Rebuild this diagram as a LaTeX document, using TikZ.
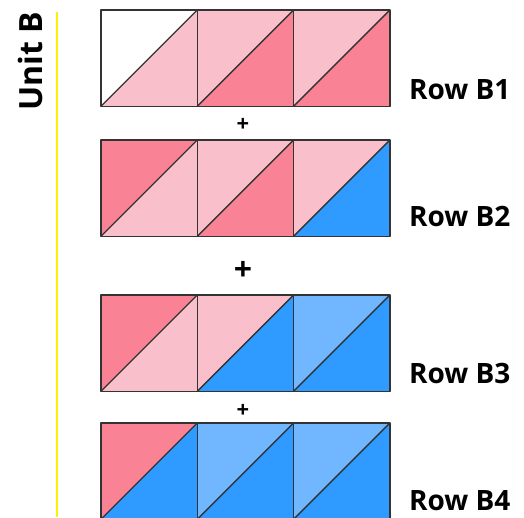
\documentclass[tikz,border=0pt]{standalone}
\usepackage{fontspec}
\setmainfont{Open Sans}
\definecolor{lpink}{HTML}{F9C0CB}
\definecolor{dpink}{HTML}{F98395}
\definecolor{dblue}{HTML}{2F9AFF}
\definecolor{lblue}{HTML}{70B7FF}
\begin{document}
\begin{tikzpicture}[x=1pt,y=-1pt,
  edge/.style={draw=black!80,line width=1.3pt,line join=round},
  lbl/.style={font=\bfseries\fontsize{28}{30}\selectfont,anchor=base west,inner sep=0pt},
  plussmall/.style={font=\bfseries\fontsize{22}{24}\selectfont,inner sep=0pt},
  plusbig/.style={font=\bfseries\fontsize{32}{34}\selectfont,inner sep=0pt}]
\useasboundingbox (0,0) rectangle (524,517);
% hst: x, y, upper-left colour, lower-right colour
\newcommand{\hst}[4]{%
  \fill[#3] (#1,#2) -- (#1+96.3,#2) -- (#1,#2+96.3) -- cycle;
  \fill[#4] (#1+96.3,#2) -- (#1+96.3,#2+96.3) -- (#1,#2+96.3) -- cycle;
  \draw[edge] (#1,#2) rectangle (#1+96.3,#2+96.3);
  \draw[edge] (#1,#2+96.3) -- (#1+96.3,#2);}
% Row B1
\hst{101}{10}{white}{lpink}
\hst{197.3}{10}{lpink}{dpink}
\hst{293.6}{10}{lpink}{dpink}
% Row B2
\hst{101}{140}{dpink}{lpink}
\hst{197.3}{140}{lpink}{dpink}
\hst{293.6}{140}{lpink}{dblue}
% Row B3
\hst{101}{295}{dpink}{lpink}
\hst{197.3}{295}{lpink}{dblue}
\hst{293.6}{295}{lblue}{dblue}
% Row B4
\hst{101}{423}{dpink}{dblue}
\hst{197.3}{423}{lblue}{dblue}
\hst{293.6}{423}{lblue}{dblue}
% plus signs
\node[plussmall] (p1) at (243,125) {+};
\node[plusbig] (p2) at (243,271) {+};
\node[plussmall] (p3) at (243,411) {+};
% labels
\node[lbl] (r1) at (409,99) {Row B1};
\node[lbl] (r2) at (409,226) {Row B2};
\node[lbl] (r3) at (409,383) {Row B3};
\node[lbl] (r4) at (409,510) {Row B4};
\node[font=\bfseries\fontsize{32}{34}\selectfont,rotate=90,inner sep=0pt] (unit) at (30,61) {Unit B};
% yellow rule
\coordinate (ytop) at (57,12);
\coordinate (ybot) at (57,517);
\draw[yellow,line width=2pt] (ytop) -- (ybot);
\end{tikzpicture}
\end{document}
